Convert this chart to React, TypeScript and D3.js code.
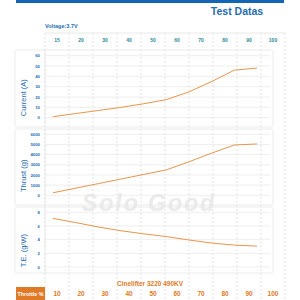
import React from "react";
import * as d3 from "d3";

const throttle = [10, 20, 30, 40, 50, 60, 70, 80, 90, 100];
const topLabels = ["15", "20", "30", "40", "50", "60", "70", "80", "90", "100"];
const currentA = [1, 4, 7, 10, 13.5, 17.5, 25, 35, 46, 48];
const thrustG = [250, 700, 1150, 1600, 2050, 2500, 3300, 4150, 4950, 5050];
const efficiency = [7.1, 6.5, 5.85, 5.3, 4.85, 4.45, 3.95, 3.5, 3.2, 3.05];

const currentTicks = [0, 10, 20, 30, 40, 50, 60];
const thrustTicks = [0, 1000, 2000, 3000, 4000, 5000, 6000];
const teTicks = [0, 2, 4, 6, 8];

const BLUE = "#1f6db3";
const ORANGE = "#e07a26";
const LINE = "#e8954a";
const GRID = "#e3e3e3";
const FONT = "'Liberation Sans', Arial, sans-serif";

const panels = [
  { title: "Current (A)", values: currentA, ticks: currentTicks, domain: [0, 60], range: [117.7, 55.7], box: [50, 127] },
  { title: "Thrust (g)", values: thrustG, ticks: thrustTicks, domain: [0, 6000], range: [195.3, 134.3], box: [129, 205] },
  { title: "T.E. (g/W)", values: efficiency, ticks: teTicks, domain: [0, 8], range: [267, 212.3], box: [207, 273] },
];

export default function App() {
  const col = d3.scaleBand<string>().domain(topLabels).range([45, 285]);
  const colBottom = d3.scaleBand<number>().domain(throttle).range([45, 285]);
  const x = d3.scaleLinear().domain([10, 100]).range([53, 257]);
  const bounds = [45, ...topLabels.map((l) => (col(l) as number) + col.bandwidth())];

  return (
    <svg width={300} height={300} style={{ position: "absolute", left: 0, top: 0, fontFamily: FONT }}>
      <rect width={300} height={300} fill="#fff" />
      <rect x={16} y={0} width={268} height={3} fill="#1565b5" />
      <text x={237} y={14.5} textAnchor="middle" fontSize={10.5} fontWeight="bold" fill={BLUE}>Test Datas</text>
      <text x={45} y={28} fontSize={5.5} fontWeight="bold" fill={BLUE}>Voltage:3.7V</text>

      {/* header row */}
      <line x1={45} x2={285} y1={33} y2={33} stroke={GRID} strokeWidth={0.8} />
      {bounds.map((b, i) => (
        <line key={i} x1={b} x2={b} y1={33} y2={300} stroke="#d5d5d5" strokeWidth={0.7} strokeDasharray="2,2" />
      ))}
      {topLabels.map((l) => (
        <text key={l} x={(col(l) as number) + col.bandwidth() / 2} y={41.5} textAnchor="middle" fontSize={5} fontWeight="bold" fill="#2f8a9c">{l}</text>
      ))}

      {/* watermark */}
      <text x={149} y={211} textAnchor="middle" fontSize={23} fontWeight="bold" fontStyle="italic" fill="#ebebeb" letterSpacing={2}>Solo Good</text>

      {panels.map((p) => {
        const y = d3.scaleLinear().domain(p.domain).range(p.range);
        const line = d3.line<number>().x((_, i) => x(throttle[i])).y((d) => y(d));
        return (
          <g key={p.title}>
            <rect x={15} y={p.box[0]} width={258} height={p.box[1] - p.box[0]} rx={2} fill="none" stroke="#e6e6e6" strokeWidth={0.8} />
            {p.ticks.map((t) => (
              <g key={t}>
                <line x1={45} x2={270} y1={y(t)} y2={y(t)} stroke={GRID} strokeWidth={0.6} />
                <text x={40} y={y(t) + 1.6} textAnchor="end" fontSize={4.3} fontWeight="bold" fill={BLUE}>{t}</text>
              </g>
            ))}
            <line x1={45} x2={45} y1={p.box[0]} y2={p.box[1]} stroke={GRID} strokeWidth={0.6} />
            <text transform={`translate(25.5,${(p.range[0] + p.range[1]) / 2 + 11}) rotate(-90)`} textAnchor="middle" fontSize={7.5} fill={BLUE}>{p.title}</text>
            <path d={line(p.values) ?? ""} fill="none" stroke={LINE} strokeWidth={1} />
          </g>
        );
      })}

      <text x={150} y={286} textAnchor="middle" fontSize={6.5} fontWeight="bold" fill={ORANGE}>Cinelifter 3220 490KV</text>
      <rect x={16} y={287} width={29} height={13} fill={ORANGE} />
      <text x={30.5} y={295.5} textAnchor="middle" fontSize={5.3} fontWeight="bold" fill="#fff">Throttle %</text>
      {throttle.map((t) => (
        <text key={t} x={(colBottom(t) as number) + colBottom.bandwidth() / 2} y={296} textAnchor="middle" fontSize={6.5} fontWeight="bold" fill={ORANGE}>{t}</text>
      ))}
    </svg>
  );
}
